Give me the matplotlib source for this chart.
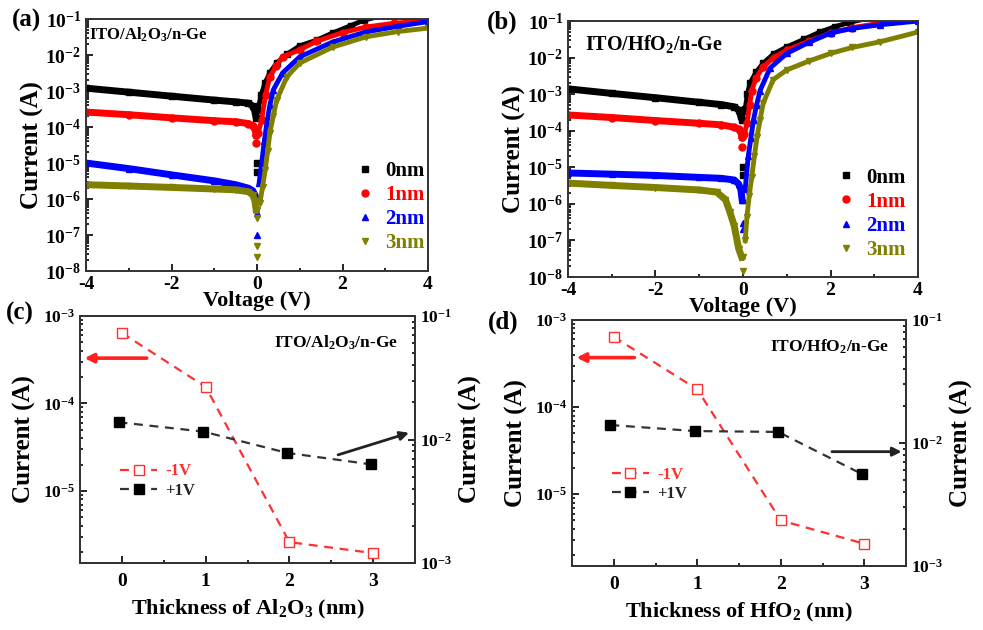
import matplotlib
matplotlib.use("Agg")
import numpy as np
import matplotlib.pyplot as plt
from matplotlib.lines import Line2D
from matplotlib.ticker import LogLocator, MultipleLocator, NullFormatter, FuncFormatter

plt.rcParams['font.family'] = 'Liberation Serif'
plt.rcParams['font.weight'] = 'bold'
plt.rcParams['axes.labelweight'] = 'bold'
plt.rcParams['axes.unicode_minus'] = False
plt.rcParams['mathtext.fontset'] = 'custom'
plt.rcParams['mathtext.rm'] = 'Liberation Serif:bold'
plt.rcParams['mathtext.it'] = 'Liberation Serif:italic:bold'
plt.rcParams['mathtext.bf'] = 'Liberation Serif:bold'

# ---- data: I-V curves, panel (a) ITO/Al2O3/n-Ge ----
labels = ['0nm', '1nm', '2nm', '3nm']
colors = ['#000000', '#ff0000', '#0000ff', '#7f7f00']
markers = ['s', 'o', '^', 'v']

a_v_rev = [-4, -3, -2, -1, -0.5, -0.2, -0.1, -0.05, -0.02]
a_i_rev = [
    [1.2e-3, 9.3e-4, 7.2e-4, 5.6e-4, 5.0e-4, 4.6e-4, 3.8e-4, 2.8e-4, 1.8e-4],
    [2.6e-4, 2.2e-4, 1.8e-4, 1.5e-4, 1.4e-4, 1.25e-4, 1.1e-4, 9e-5, 6e-5],
    [1.0e-5, 7e-6, 4.7e-6, 3.2e-6, 2.5e-6, 2.0e-6, 1.7e-6, 1.3e-6, 1.0e-6],
    [2.5e-6, 2.3e-6, 2.1e-6, 1.9e-6, 1.8e-6, 1.6e-6, 1.3e-6, 9e-7, 5e-7],
]
a_v_dip = [[0, 0], [-0.02, -0.02], [0, 0, 0], [0, 0, 0, 0]]
a_i_dip = [[1.0e-5, 5.6e-6], [6e-5, 3.5e-5], [1e-6, 4e-7, 1e-7],
           [5e-7, 3e-7, 5e-8, 2.5e-8]]
a_v_fwd = [
    [0.02, 0.1, 0.19, 0.3, 0.46, 0.7, 1.0, 1.4, 1.77, 2.2, 2.5, 3, 4],
    [0.03, 0.11, 0.2, 0.3, 0.45, 0.6, 1.0, 1.39, 2.0, 2.55, 3.2, 4],
    [0.05, 0.11, 0.17, 0.23, 0.3, 0.38, 0.6, 1.0, 1.77, 2.55, 3.3, 4],
    [0.07, 0.13, 0.19, 0.25, 0.3, 0.38, 0.46, 0.7, 1.0, 1.77, 2.55, 3.3, 4],
]
a_i_fwd = [
    [3e-4, 8e-4, 1.7e-3, 3.2e-3, 6e-3, 1.05e-2, 1.8e-2, 2.6e-2, 4.1e-2, 6.6e-2, 9.3e-2, 0.13, 0.2],
    [7e-5, 1.6e-4, 8e-4, 2.5e-3, 5e-3, 8.9e-3, 1.4e-2, 2.4e-2, 4.2e-2, 6e-2, 7.6e-2, 9.1e-2],
    [2.8e-6, 1e-5, 4e-5, 1.26e-4, 4e-4, 1.07e-3, 3.2e-3, 8.9e-3, 2.3e-2, 4.4e-2, 6.3e-2, 8.5e-2],
    [8e-7, 2.2e-6, 6.3e-6, 2.2e-5, 6.8e-5, 2e-4, 5.6e-4, 2.5e-3, 6e-3, 1.66e-2, 3.2e-2, 4.5e-2, 5.6e-2],
]

# ---- data: I-V curves, panel (b) ITO/HfO2/n-Ge ----
b_v_rev = [
    [-4, -3, -2, -1, -0.5, -0.2, -0.1, -0.05, -0.02],
    [-4, -3, -2, -1, -0.5, -0.2, -0.1, -0.05, -0.02],
    [-4, -3, -2, -1, -0.5, -0.2, -0.1, -0.05, -0.02],
    [-4, -3, -2, -1, -0.6, -0.4, -0.3, -0.2, -0.1, -0.03],
]
b_i_rev = [
    [1.4e-3, 1.05e-3, 8e-4, 6e-4, 5.2e-4, 4.5e-4, 3.7e-4, 2.5e-4, 2e-4],
    [2.7e-4, 2.3e-4, 1.9e-4, 1.6e-4, 1.45e-4, 1.25e-4, 1.1e-4, 9e-5, 6.8e-5],
    [7e-6, 6.5e-6, 6e-6, 5.3e-6, 5e-6, 4.5e-6, 3.5e-6, 2.5e-6, 1.3e-6],
    [3.7e-6, 3.2e-6, 2.8e-6, 2.4e-6, 2.1e-6, 1.3e-6, 6e-7, 2.5e-7, 6e-8, 3.5e-8],
]
b_v_dip = [[0, 0], [-0.02, -0.02], [0, 0, 0], [0, 0]]
b_i_dip = [[1e-5, 6e-6], [6.8e-5, 3.6e-5], [1.3e-6, 3e-7, 2e-7], [3.5e-8, 1.5e-8]]
b_v_fwd = [
    [0.02, 0.05, 0.1, 0.16, 0.3, 0.46, 0.7, 1.0, 1.4, 1.76, 2.1, 2.45, 3, 4],
    [0.03, 0.09, 0.15, 0.2, 0.3, 0.46, 0.7, 1.0, 1.5, 2.0, 2.5, 3.13, 4],
    [0.05, 0.12, 0.18, 0.24, 0.31, 0.39, 0.62, 1.0, 1.5, 2.0, 2.5, 3.13, 4],
    [0.05, 0.09, 0.14, 0.2, 0.26, 0.32, 0.39, 0.46, 0.69, 1.0, 1.5, 2.0, 2.5, 3.13, 4],
]
b_i_fwd = [
    [3.5e-4, 4e-4, 1e-3, 2e-3, 4e-3, 7e-3, 1.26e-2, 1.95e-2, 3.2e-2, 5e-2, 7e-2, 9.3e-2, 0.13, 0.18],
    [8e-5, 1.6e-4, 5e-4, 1.26e-3, 2.8e-3, 5.6e-3, 1e-2, 1.6e-2, 2.8e-2, 4.7e-2, 6.6e-2, 8.7e-2, 0.105],
    [2.5e-6, 2e-5, 6.3e-5, 2e-4, 5e-4, 1.26e-3, 5.2e-3, 1.3e-2, 2.6e-2, 4.7e-2, 6.3e-2, 7.9e-2, 0.1],
    [1e-7, 4.5e-7, 1.6e-6, 5.5e-6, 2e-5, 6.8e-5, 2e-4, 5.6e-4, 2.5e-3, 4.6e-3, 8e-3, 1.3e-2, 1.9e-2, 2.7e-2, 5e-2],
]

# ---- data: current vs thickness, panels (c) and (d) ----
thickness = [0, 1, 2, 3]
thickness_p = [-0.04, 0.97, 1.97, 2.97]
c_neg1v = [6.4e-4, 1.55e-4, 2.6e-6, 1.95e-6]
c_pos1v = [1.38e-2, 1.16e-2, 7.8e-3, 6.3e-3]
d_neg1v = [6.4e-4, 1.6e-4, 5.0e-6, 2.7e-6]
d_pos1v = [1.4e-2, 1.25e-2, 1.23e-2, 5.6e-3]

fig = plt.figure(figsize=(9.83, 6.3), dpi=100)

pow_fmt = FuncFormatter(lambda v, p: r'$\mathbf{10^{%d}}$' % int(round(np.log10(v))))


def style_axis(ax, size=12.5):
    ax.tick_params(which='both', direction='in', labelsize=size, width=1.2)
    ax.tick_params(which='major', length=5)
    ax.tick_params(which='minor', length=2.5)
    for s in ax.spines.values():
        s.set_linewidth(1.4)
        s.set_color('#333333')
    ax.yaxis.set_major_formatter(pow_fmt)


def iv_panel(rect, v_rev, i_rev, v_dip, i_dip, v_fwd, i_fwd, note, note_xy, note_size, leg_anchor, tag, tag_xy):
    ax = fig.add_axes(rect)
    for k in range(4):
        vr = v_rev[k] if isinstance(v_rev[0], list) else v_rev
        ax.plot(vr, i_rev[k], color=colors[k], marker=markers[k], ms=5, lw=5)
        ax.plot(v_dip[k], i_dip[k], color=colors[k], marker=markers[k], ms=5, ls='none')
        ax.plot(v_fwd[k], i_fwd[k], color=colors[k], marker=markers[k], ms=5, lw=3.5)
    ax.set_yscale('log')
    ax.set_xlim(-4, 4)
    ax.set_ylim(1e-8, 1e-1)
    ax.xaxis.set_major_locator(MultipleLocator(2))
    ax.xaxis.set_minor_locator(MultipleLocator(1))
    ax.yaxis.set_major_locator(LogLocator(base=10, numticks=12))
    ax.yaxis.set_minor_locator(LogLocator(base=10, subs=range(2, 10), numticks=12))
    ax.yaxis.set_minor_formatter(NullFormatter())
    style_axis(ax, 14)
    ax.set_xlabel('Voltage (V)', fontsize=16, labelpad=-1)
    ax.set_ylabel('Current (A)', fontsize=18, labelpad=1)
    ax.text(note_xy[0], note_xy[1], note, transform=ax.transAxes, fontsize=note_size,
            va='top', ha='left')
    handles = [Line2D([], [], color=colors[k], marker=markers[k], ls='none', ms=5)
               for k in range(4)]
    ax.legend(handles, labels, loc='upper left', bbox_to_anchor=leg_anchor, frameon=False,
              prop={'size': 15, 'weight': 'bold'}, labelcolor=colors, handletextpad=0.5,
              labelspacing=0.2, handlelength=1.0, borderaxespad=0)
    fig.text(tag_xy[0], tag_xy[1], tag, fontsize=18, ha='left', va='center')
    return ax


iv_panel([0.0875, 0.5698, 0.3479, 0.4], a_v_rev, a_i_rev, a_v_dip, a_i_dip, a_v_fwd, a_i_fwd,
         'ITO/Al$_2$O$_3$/n-Ge', (0.01, 0.975), 12, (0.76, 0.47), '(a)', (0.012, 0.968))
iv_panel([0.5778, 0.5603, 0.3561, 0.4063], b_v_rev, b_i_rev, b_v_dip, b_i_dip, b_v_fwd, b_i_fwd,
         'ITO/HfO$_2$/n-Ge', (0.05, 0.955), 14.5, (0.74, 0.46), '(b)', (0.495, 0.965))


def thick_panel(rect, neg, pos, note, xlabel, red_arrow, blk_arrow, tag, tag_xy):
    ax = fig.add_axes(rect)
    ax2 = ax.twinx()
    ax.plot(thickness, neg, color='#ff3030', ls=(0, (4, 3)), lw=1.6, marker='s', ms=7,
            mfc='white', mec='#ff3030', mew=1.0, label='-1V', zorder=3)
    ax2.plot(thickness_p, pos, color='#333333', ls=(0, (4, 3)), lw=1.6, marker='s', ms=7,
             mfc='black', mec='black', label='+1V')
    ax.set_yscale('log')
    ax2.set_yscale('log')
    ax.set_xlim(-0.5, 3.5)
    ax.set_ylim(1.5e-6, 1e-3)
    ax2.set_ylim(1e-3, 1e-1)
    ax.xaxis.set_major_locator(MultipleLocator(1))
    ax.xaxis.set_minor_locator(MultipleLocator(0.5))
    for a in (ax, ax2):
        a.yaxis.set_minor_locator(LogLocator(base=10, subs=range(2, 10), numticks=12))
        a.yaxis.set_minor_formatter(NullFormatter())
        style_axis(a, 12.5)
    ax.tick_params(axis='x', labelsize=14, pad=7)
    ax.set_xlabel(xlabel, fontsize=16, labelpad=6)
    ax.set_ylabel('Current (A)', fontsize=18, labelpad=5)
    ax2.set_ylabel('Current (A)', fontsize=18, labelpad=5)
    ax.text(0.95, 0.93, note, transform=ax.transAxes, fontsize=12.5, ha='right', va='top')
    ax.annotate('', xy=red_arrow[1], xytext=red_arrow[0],
                arrowprops=dict(arrowstyle='-|>', color='#ff2020', lw=2.6, mutation_scale=13))
    ax2.annotate('', xy=blk_arrow[1], xytext=blk_arrow[0],
                 arrowprops=dict(arrowstyle='-|>', color='#222222', lw=2.0, mutation_scale=13))
    h1, l1 = ax.get_legend_handles_labels()
    h2, l2 = ax2.get_legend_handles_labels()
    ax.legend(h1 + h2, l1 + l2, loc='upper left', bbox_to_anchor=(0.1, 0.43), frameon=False,
              prop={'size': 12, 'weight': 'bold'}, labelcolor=['#ff3030', '#222222'],
              handlelength=2.2, handletextpad=0.5, labelspacing=0.2, borderaxespad=0)
    fig.text(tag_xy[0], tag_xy[1], tag, fontsize=18, ha='left', va='center')


thick_panel([0.0814, 0.1063, 0.3408, 0.3921], c_neg1v, c_pos1v, 'ITO/Al$_2$O$_3$/n-Ge',
            'Thickness of Al$_2$O$_3$ (nm)', ((0.33, 3.3e-4), (-0.48, 3.3e-4)),
            ((2.55, 7.4e-3), (3.46, 1.15e-2)), '(c)', (0.006, 0.502))
thick_panel([0.5819, 0.1016, 0.3398, 0.3905], d_neg1v, d_pos1v, 'ITO/HfO$_2$/n-Ge',
            'Thickness of HfO$_2$ (nm)', ((0.28, 3.7e-4), (-0.48, 3.7e-4)),
            ((2.58, 8.5e-3), (3.48, 8.5e-3)), '(d)', (0.496, 0.489))

fig.savefig('out.png', dpi=100)
